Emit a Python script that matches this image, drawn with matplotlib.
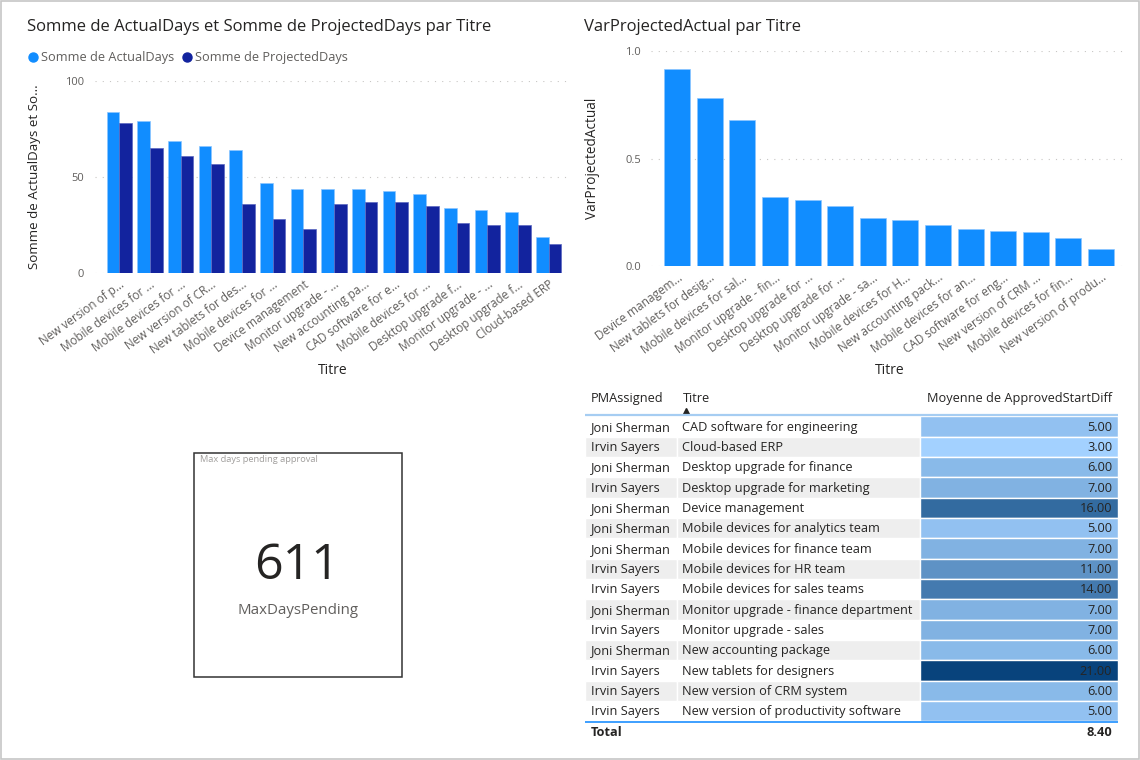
import matplotlib
matplotlib.use('Agg')
import matplotlib.pyplot as plt
import numpy as np
from matplotlib.colors import LinearSegmentedColormap, Normalize
from matplotlib.patches import Rectangle

# ---- data ----
titles_left = ["New version of p...", "Mobile devices for ...", "Mobile devices for ...",
               "New version of CR...", "New tablets for des...", "Mobile devices for ...",
               "Device management", "Monitor upgrade - ...", "New accounting pa...",
               "CAD software for e...", "Mobile devices for ...", "Desktop upgrade f...",
               "Monitor upgrade - ...", "Desktop upgrade f...", "Cloud-based ERP"]
actual_days = [84, 79, 69, 66, 64, 47, 44, 44, 44, 43, 41, 34, 33, 32, 19]
projected_days = [78, 65, 61, 57, 36, 28, 23, 36, 37, 37, 35, 26, 25, 25, 15]

titles_right = ["Device managem...", "New tablets for desig...", "Mobile devices for sal...",
                "Monitor upgrade - fin...", "Desktop upgrade for ...", "Desktop upgrade for ...",
                "Monitor upgrade - sa...", "Mobile devices for H...", "New accounting pack...",
                "Mobile devices for an...", "CAD software for eng...", "New version of CRM ...",
                "Mobile devices for fin...", "New version of produ..."]
var_projected_actual = [0.915, 0.780, 0.681, 0.320, 0.308, 0.282, 0.223, 0.217,
                        0.190, 0.172, 0.164, 0.159, 0.131, 0.079]

pm_assigned = ["Joni Sherman", "Irvin Sayers", "Joni Sherman", "Irvin Sayers", "Joni Sherman",
               "Joni Sherman", "Joni Sherman", "Irvin Sayers", "Irvin Sayers", "Joni Sherman",
               "Irvin Sayers", "Joni Sherman", "Irvin Sayers", "Irvin Sayers", "Irvin Sayers"]
table_titles = ["CAD software for engineering", "Cloud-based ERP", "Desktop upgrade for finance",
                "Desktop upgrade for marketing", "Device management",
                "Mobile devices for analytics team", "Mobile devices for finance team",
                "Mobile devices for HR team", "Mobile devices for sales teams",
                "Monitor upgrade - finance department", "Monitor upgrade - sales",
                "New accounting package", "New tablets for designers",
                "New version of CRM system", "New version of productivity software"]
approved_start_diff = [5, 3, 6, 7, 16, 5, 7, 11, 14, 7, 7, 6, 21, 6, 5]

max_days_pending = 611

# ---- style ----
plt.rcParams['font.family'] = ['Open Sans', 'DejaVu Sans']
TXT = '#252423'
GRAY = '#605E5C'
LIGHT = '#118DFF'
DARK = '#12239E'
W, H = 1140, 760

fig = plt.figure(figsize=(W / 100, H / 100), dpi=100)
fig.patch.set_facecolor('white')

# overlay in pixel coords for titles, card and table
ov = fig.add_axes([0, 0, 1, 1])
ov.set_xlim(0, W)
ov.set_ylim(H, 0)
ov.axis('off')
ov.add_patch(Rectangle((0.5, 0.5), W - 1.5, H - 1.5, fill=False, ec='#C6C6C6', lw=1.2))


def style_axes(ax):
    for s in ax.spines.values():
        s.set_visible(False)
    ax.set_axisbelow(True)
    ax.yaxis.grid(True, color='#C8C6C4', linestyle=(0, (1, 5.5)), lw=0.8)
    ax.tick_params(length=0)
    ax.tick_params(axis='y', pad=7.5, labelsize=8, labelcolor=GRAY)
    ax.tick_params(axis='x', pad=3.5, labelsize=8.5, labelcolor=GRAY)


# ---- left chart: clustered bars ----
ax1 = fig.add_axes([94.5 / W, 1 - 273.3 / H, 477.2 / W, 192.3 / H])
x = np.arange(len(titles_left))
bw = 0.41
ax1.bar(x - bw / 2, actual_days, bw, color=LIGHT, ec='#8CC6FF', lw=0.5)
ax1.bar(x + bw / 2, projected_days, bw, color=DARK, ec='#5B67C0', lw=0.5)
ax1.set_xlim(-0.81, 14.75)
ax1.set_ylim(0, 100)
ax1.set_yticks([0, 50, 100])
ax1.set_xticks(x)
ax1.set_xticklabels(titles_left, rotation=36, ha='right', rotation_mode='anchor')
style_axes(ax1)

ov.text(27, 27, "Somme de ActualDays et Somme de ProjectedDays par Titre",
        fontsize=12, color=TXT, ha='left', va='center')
ov.plot([33], [57], 'o', ms=6.5, color=LIGHT)
ov.text(41, 57, "Somme de ActualDays", fontsize=9.2, color=GRAY, ha='left', va='center')
ov.plot([187], [57], 'o', ms=6.5, color=DARK)
ov.text(195, 57, "Somme de ProjectedDays", fontsize=9.2, color=GRAY, ha='left', va='center')
ov.text(35, 177, "Somme de ActualDays et So...", rotation=90, fontsize=9.6, color=TXT,
        ha='center', va='center')
ov.text(333.1, 370, "Titre", fontsize=10, color=TXT, ha='center', va='center')

# ---- right chart ----
ax2 = fig.add_axes([651.4 / W, 1 - 266.3 / H, 476.6 / W, 215.3 / H])
x2 = np.arange(len(titles_right))
ax2.bar(x2, var_projected_actual, 0.8, color=LIGHT, ec='#8CC6FF', lw=0.5)
ax2.set_xlim(-0.79, 13.83)
ax2.set_ylim(0, 1)
ax2.set_yticks([0, 0.5, 1.0])
ax2.set_yticklabels(['0.0', '0.5', '1.0'])
ax2.set_xticks(x2)
ax2.set_xticklabels(titles_right, rotation=36, ha='right', rotation_mode='anchor')
style_axes(ax2)

ov.text(584, 27, "VarProjectedActual par Titre", fontsize=12, color=TXT, ha='left', va='center')
ov.text(593, 158.6, "VarProjectedActual", rotation=90, fontsize=9.8, color=TXT,
        ha='center', va='center')
ov.text(889.7, 370, "Titre", fontsize=10, color=TXT, ha='center', va='center')

# ---- card ----
ov.add_patch(Rectangle((194, 453), 208, 224, fill=False, ec='#333333', lw=1.1))
ov.text(200, 460, "Max days pending approval", fontsize=6.7, color='#A19F9D',
        ha='left', va='center')
ov.text(297, 566, str(max_days_pending), fontsize=36, color=TXT, ha='center', va='center')
ov.text(298, 611, "MaxDaysPending", fontsize=10.8, color=GRAY, ha='center', va='center')

# ---- table ----
tl, tr = 585, 1117.5
c2, c3 = 677, 920
fs = 9.2
ov.text(590.7, 398.3, "PMAssigned", fontsize=fs, color=TXT, va='center')
ov.text(682.5, 398.3, "Titre", fontsize=fs, color=TXT, va='center')
ov.plot([686.4], [410.6], marker='^', ms=4.2, color=TXT)
ov.text(1112, 398.3, "Moyenne de ApprovedStartDiff", fontsize=fs, color=TXT,
        ha='right', va='center')
ov.plot([tl, tr], [415.3, 415.3], color='#A6CDF2', lw=1.6, solid_capstyle='butt')

cmap = LinearSegmentedColormap.from_list('pbi', ['#A3D1FF', '#08437C'])
norm = Normalize(min(approved_start_diff), max(approved_start_diff))
y0, rh = 416.3, 20.33
for i, (pm, t, v) in enumerate(zip(pm_assigned, table_titles, approved_start_diff)):
    top = y0 + i * rh
    if i % 2 == 1:
        ov.add_patch(Rectangle((tl, top), c2 - tl, rh, fc='#EEEEEE', ec='white', lw=1))
        ov.add_patch(Rectangle((c2, top), c3 - c2, rh, fc='#EEEEEE', ec='white', lw=1))
    ov.add_patch(Rectangle((c3, top), tr - c3, rh, fc=cmap(norm(v)), ec='white', lw=1))
    yc = top + rh / 2 + 0.8
    ov.text(590.7, yc, pm, fontsize=fs, color=TXT, va='center')
    ov.text(682.5, yc, t, fontsize=fs, color=TXT, va='center')
    ov.text(1112, yc, f"{v:.2f}", fontsize=fs, color=TXT, ha='right', va='center')

ov.plot([tl, tr], [721.6, 721.6], color='#2E97FF', lw=1.3, solid_capstyle='butt')
ov.text(590.7, 732.3, "Total", fontsize=fs, color=TXT, weight='bold', va='center')
ov.text(1112, 732.3, f"{np.mean(approved_start_diff):.2f}", fontsize=fs, color=TXT,
        weight='bold', ha='right', va='center')

fig.savefig('out.png', dpi=100, facecolor='white')
